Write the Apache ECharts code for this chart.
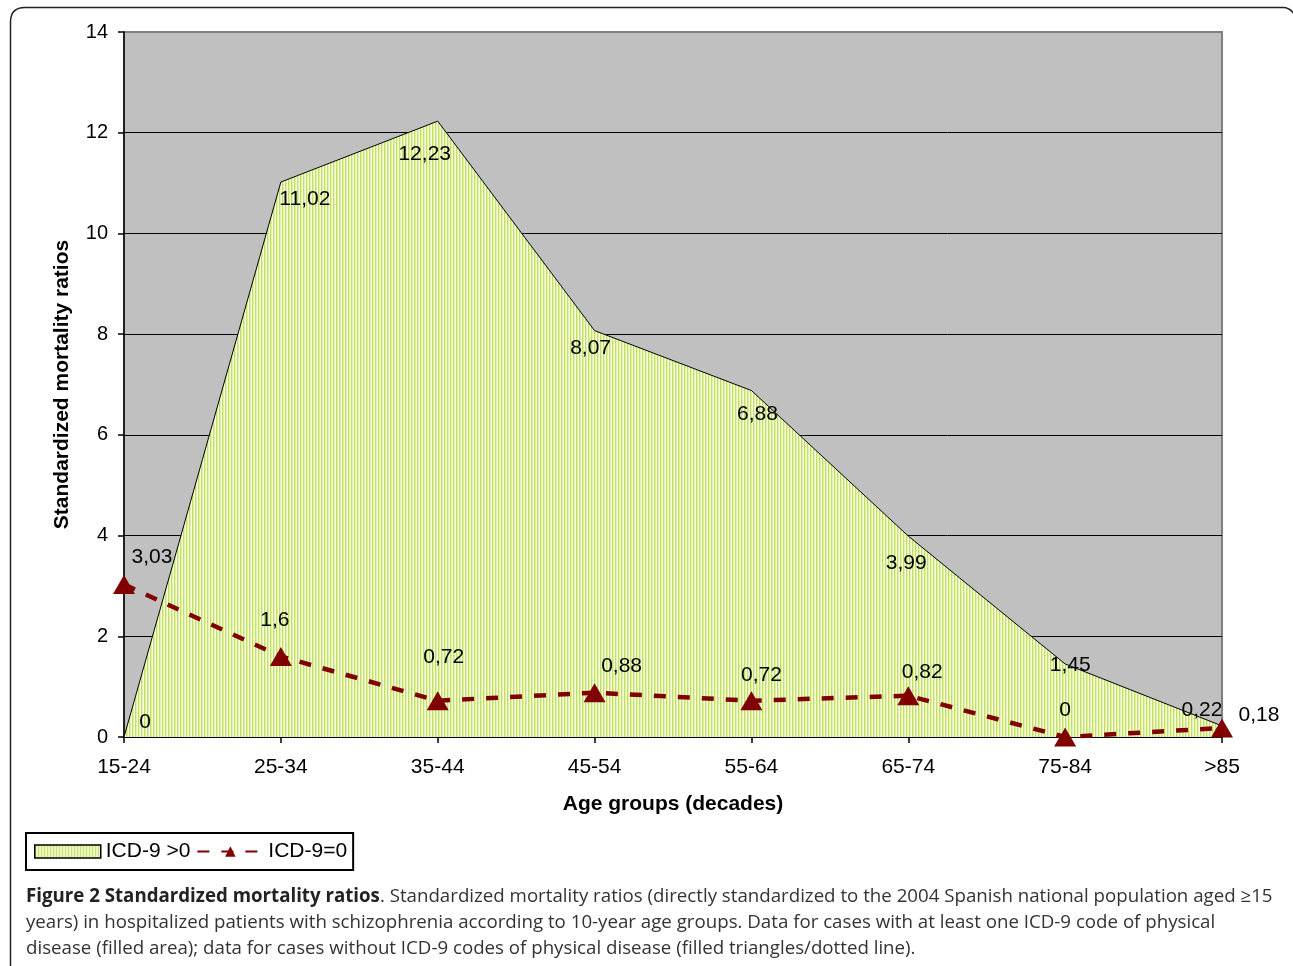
<!DOCTYPE html>
<html>
<head>
<meta charset="utf-8">
<script src="https://cdn.jsdelivr.net/npm/echarts@6/dist/echarts.min.js"></script>
<style>
html,body{margin:0;padding:0;background:#fff;}
#c{width:1293px;height:966px;}
</style>
</head>
<body>
<div id="c"></div>
<script>
// ---- data ----
const categories = ['15-24','25-34','35-44','45-54','55-64','65-74','75-84','>85'];
const icdPositive = [0, 11.02, 12.23, 8.07, 6.88, 3.99, 1.45, 0.22];
const icdZero = [3.03, 1.6, 0.72, 0.88, 0.72, 0.82, 0, 0.18];
const yTicks = [0, 2, 4, 6, 8, 10, 12, 14];

// label nudges (layout only)
const areaLabelNudge = [[21,-15],[24,17],[-13,33],[-4,18],[6,24],[-2,27],[5,1],[-20,-16]];
const triLabelNudge = [[28,-27],[-6,-36],[6,-44],[27,-26],[10,-26],[14,-24],[0,-27],[37,-13]];

function fmt(v){ return String(v).replace('.', ','); }

// hatch pattern
const pc = document.createElement('canvas');
pc.width = 3; pc.height = 4;
const pctx = pc.getContext('2d');
pctx.fillStyle = '#fbfee6'; pctx.fillRect(0,0,3,4);
pctx.fillStyle = '#bfe064'; pctx.fillRect(0,0,1,4);
pctx.fillStyle = '#e2f3a6'; pctx.fillRect(1,0,1,4);
const hatch = {image: pc, repeat: 'repeat'};

const chart = echarts.init(document.getElementById('c'), null, {renderer:'canvas'});
const FONT = 'Liberation Sans, Arial, sans-serif';
const FS = 21;
const frame = {fill:null, stroke:'#222', lineWidth:1.5};
const CAP = '18.7px "Open Sans", sans-serif';

const option = {
  backgroundColor: '#fff',
  animation: false,
  grid: {left:124, right:71, top:32, bottom:229, show:true, backgroundColor:'#c0c0c0', borderColor:'#808080', borderWidth:2},
  legend: {
    left: 26, top: 833, orient:'horizontal',
    backgroundColor:'#fff', borderColor:'#000', borderWidth:2, borderRadius:0,
    padding:[8,6,8,8], itemGap:6, itemWidth:66, itemHeight:13,
    textStyle:{fontFamily:FONT, fontSize:FS, color:'#000'},
    data:[
      {name:'ICD-9 >0', icon:'rect', itemStyle:{color:hatch, borderColor:'#000', borderWidth:1.5}},
      {name:'ICD-9=0'}
    ]
  },
  xAxis: {
    type:'category', data:categories, boundaryGap:false,
    name:'Age groups (decades)', nameLocation:'middle', nameGap:57,
    nameTextStyle:{fontFamily:FONT, fontSize:FS, fontWeight:'bold', color:'#000'},
    axisLine:{lineStyle:{color:'#000', width:2}},
    axisTick:{show:true, length:6, lineStyle:{color:'#000', width:1.5}},
    axisLabel:{fontFamily:FONT, fontSize:FS, color:'#000', margin:20},
    splitLine:{show:false}
  },
  yAxis: {
    type:'value', min:yTicks[0], max:yTicks[yTicks.length-1], interval:2,
    name:'Standardized mortality ratios', nameLocation:'middle', nameGap:51, nameRotate:90,
    nameTextStyle:{fontFamily:FONT, fontSize:FS, fontWeight:'bold', color:'#000'},
    axisLine:{show:true, lineStyle:{color:'#000', width:1.5}},
    axisTick:{show:true, length:6, lineStyle:{color:'#000', width:1.5}},
    axisLabel:{fontFamily:FONT, fontSize:FS - 1, color:'#000', margin:16},
    splitLine:{show:true, showMaxLine:false, lineStyle:{color:'#000', width:1}}
  },
  series: [
    {
      name:'ICD-9 >0', type:'line', z:2,
      symbol:'circle', symbolSize:0.1, showSymbol:true,
      itemStyle:{color:'rgba(0,0,0,0)'},
      lineStyle:{color:'#000', width:1},
      areaStyle:{color:hatch, opacity:1},
      data: icdPositive.map((v,i)=>({value:v, label:{offset:areaLabelNudge[i]}})),
      label:{show:true, position:'inside', fontFamily:FONT, fontSize:FS, color:'#000', formatter:p=>fmt(p.value)},
      emphasis:{disabled:true}
    },
    {
      name:'ICD-9=0', type:'line', z:3,
      symbol:'triangle', symbolSize:[22,19],
      itemStyle:{color:'#800000'},
      lineStyle:{color:'#800000', width:4.5, type:[12,12]},
      data: icdZero.map((v,i)=>({value:v, label:{offset:triLabelNudge[i]}})),
      label:{show:true, position:'inside', fontFamily:FONT, fontSize:FS, color:'#000', formatter:p=>fmt(p.value)},
      emphasis:{disabled:true}
    }
  ],
  graphic: [
    {type:'line', shape:{x1:10.5, y1:22, x2:10.5, y2:966}, style:frame},
    {type:'line', shape:{x1:25, y1:7.5, x2:1283, y2:7.5}, style:frame},
    {type:'bezierCurve', shape:{x1:10.5, y1:22, x2:25, y2:7.5, cpx1:10.5, cpy1:7.5}, style:frame},
    {type:'bezierCurve', shape:{x1:1283, y1:7.5, x2:1294, y2:14, cpx1:1290, cpy1:7.5}, style:frame},
    {type:'text', left:26, top:887, style:{
      text:'{b|Figure 2 Standardized mortality ratios}. Standardized mortality ratios (directly standardized to the 2004 Spanish national population aged ≥15',
      font:CAP, fill:'#333',
      rich:{b:{font:'bold ' + CAP, fill:'#222'}}
    }},
    {type:'text', left:26, top:913, style:{
      text:'years) in hospitalized patients with schizophrenia according to 10-year age groups. Data for cases with at least one ICD-9 code of physical',
      font:CAP, fill:'#333'
    }},
    {type:'text', left:26, top:939, style:{
      text:'disease (filled area); data for cases without ICD-9 codes of physical disease (filled triangles/dotted line).',
      font:CAP, fill:'#333'
    }}
  ]
};
chart.setOption(option);
</script>
</body>
</html>
